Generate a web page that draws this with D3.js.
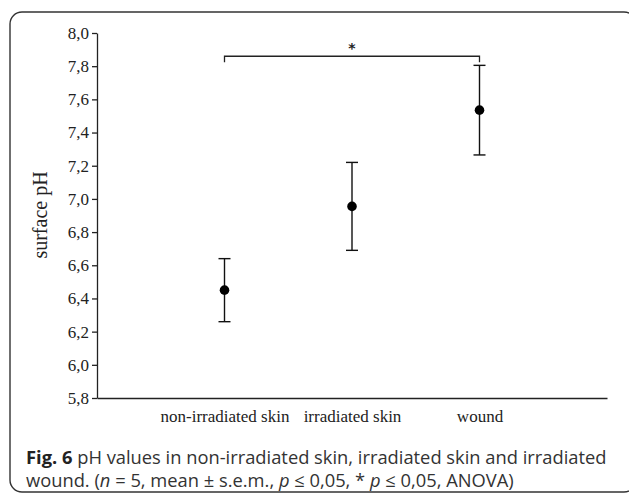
<!DOCTYPE html>
<html>
<head>
<meta charset="utf-8">
<script src="https://cdn.jsdelivr.net/npm/d3@7"></script>
<style>
  body { margin: 0; background: #fff; }
  svg { display: block; }
</style>
</head>
<body>
<div id="chart"></div>
<script>
var categories = ['non-irradiated skin', 'irradiated skin', 'wound'];
var means = [6.45, 6.955, 7.535];
var sem = [0.19, 0.265, 0.27];
var yTicks = [5.8, 6.0, 6.2, 6.4, 6.6, 6.8, 7.0, 7.2, 7.4, 7.6, 7.8, 8.0];
var bracketLevel = 7.86;

var width = 629, height = 493;

var svg = d3.select('#chart').append('svg')
  .attr('width', width)
  .attr('height', height);

// rounded frame, cut off on the right
svg.append('rect')
  .attr('x', 10).attr('y', 12)
  .attr('width', 626).attr('height', 480)
  .attr('rx', 12).attr('ry', 12)
  .attr('fill', 'none')
  .attr('stroke', '#333')
  .attr('stroke-width', 1.4);

var x = d3.scaleLinear().domain([0, 4]).range([97, 607]);
var y = d3.scaleLinear().domain([5.8, 8.0]).range([398, 33]);

var serif = '"Liberation Serif", "Times New Roman", serif';

// y axis
var yAxis = svg.append('g')
  .attr('transform', 'translate(' + x(0) + ',0)')
  .call(d3.axisLeft(y)
    .tickValues(yTicks)
    .tickSize(5)
    .tickSizeOuter(0)
    .tickPadding(3)
    .tickFormat(function(d){ return d.toFixed(1).replace('.', ','); }));
yAxis.selectAll('path, line').attr('stroke', '#222').attr('stroke-width', 1.3);
yAxis.selectAll('text')
  .attr('font-family', serif)
  .attr('font-size', 17)
  .attr('fill', '#222');

// x axis
var xAxis = svg.append('g')
  .attr('transform', 'translate(0,' + y(5.8) + ')')
  .call(d3.axisBottom(x)
    .tickValues([1, 2, 3])
    .tickSize(0)
    .tickSizeOuter(0)
    .tickPadding(12)
    .tickFormat(function(d){ return categories[d - 1]; }));
xAxis.select('.domain').attr('stroke', '#222').attr('stroke-width', 1.3);
xAxis.selectAll('text')
  .attr('font-family', serif)
  .attr('font-size', 17)
  .attr('fill', '#222');

// y title
svg.append('text')
  .attr('transform', 'translate(47,' + 215 + ') rotate(-90)')
  .attr('text-anchor', 'middle')
  .attr('font-family', serif)
  .attr('font-size', 20)
  .attr('fill', '#222')
  .text('surface pH');

// error bars
var bars = svg.append('g').selectAll('g')
  .data(means)
  .enter().append('g');

bars.append('line')
  .attr('x1', function(d, i){ return x(i + 1); })
  .attr('x2', function(d, i){ return x(i + 1); })
  .attr('y1', function(d, i){ return y(d - sem[i]); })
  .attr('y2', function(d, i){ return y(d + sem[i]); })
  .attr('stroke', '#111').attr('stroke-width', 1.4);

[-1, 1].forEach(function(s){
  bars.append('line')
    .attr('x1', function(d, i){ return x(i + 1) - 6; })
    .attr('x2', function(d, i){ return x(i + 1) + 6; })
    .attr('y1', function(d, i){ return y(d + s * sem[i]); })
    .attr('y2', function(d, i){ return y(d + s * sem[i]); })
    .attr('stroke', '#111').attr('stroke-width', 1.4);
});

bars.append('circle')
  .attr('cx', function(d, i){ return x(i + 1); })
  .attr('cy', function(d){ return y(d); })
  .attr('r', 4.8)
  .attr('fill', '#000');

// significance bracket
var bTop = y(bracketLevel), bFoot = bTop + 6;
svg.append('path')
  .attr('d', 'M' + x(1) + ',' + bFoot + 'V' + bTop + 'H' + x(3) + 'V' + bFoot)
  .attr('fill', 'none')
  .attr('stroke', '#222')
  .attr('stroke-width', 1.3);
svg.append('text')
  .attr('x', (x(1) + x(3)) / 2)
  .attr('y', bTop - 3)
  .attr('text-anchor', 'middle')
  .attr('font-family', '"DejaVu Sans", sans-serif')
  .attr('font-weight', 'bold')
  .attr('font-size', 14)
  .attr('fill', '#222')
  .text('*');

// caption
var sans = '"Open Sans", "Noto Sans", sans-serif';
var cap1 = svg.append('text')
  .attr('x', 26).attr('y', 464)
  .attr('font-family', sans)
  .attr('font-size', 16)
  .attr('fill', '#333');
cap1.append('tspan').attr('font-weight', 'bold').attr('fill', '#222').text('Fig. 6');
cap1.append('tspan').text(' pH values in non-irradiated skin, irradiated skin and irradiated');

var cap2 = svg.append('text')
  .attr('x', 26).attr('y', 487)
  .attr('font-family', sans)
  .attr('font-size', 16)
  .attr('fill', '#333');
cap2.append('tspan').text('wound. (');
cap2.append('tspan').attr('font-style', 'italic').text('n');
cap2.append('tspan').text(' = 5, mean ± s.e.m., ');
cap2.append('tspan').attr('font-style', 'italic').text('p');
cap2.append('tspan').text(' ≤ 0,05, * ');
cap2.append('tspan').attr('font-style', 'italic').text('p');
cap2.append('tspan').text(' ≤ 0,05, ANOVA)');

// fit the first caption line to the figure width
var w1 = cap1.node().getComputedTextLength();
var fs = 16 * (607 - 26) / w1;
cap1.attr('font-size', fs);
cap2.attr('font-size', fs);
</script>
</body>
</html>
